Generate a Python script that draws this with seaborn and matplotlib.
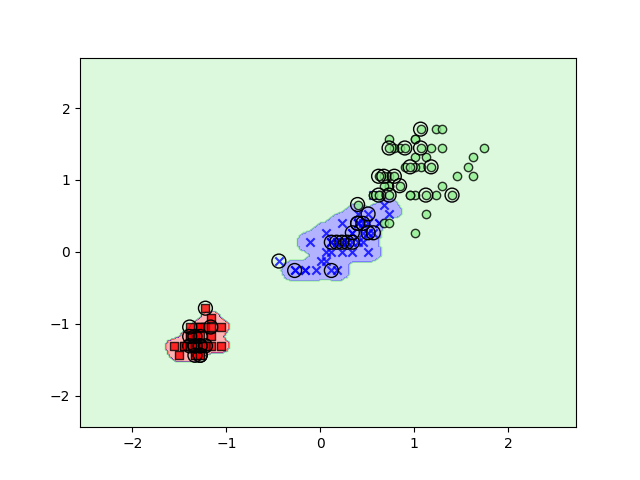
import numpy as np
import pandas as pd
import matplotlib
matplotlib.use("Agg")
import matplotlib.pyplot as plt
from matplotlib.colors import ListedColormap
import seaborn as sns

# Iris petal length / width (cm) per class
setosa_len = [1.4,1.4,1.3,1.5,1.4,1.7,1.4,1.5,1.4,1.5, 1.5,1.6,1.4,1.1,1.2,1.5,1.3,1.4,1.7,1.5,
              1.7,1.5,1.0,1.7,1.9,1.6,1.6,1.5,1.4,1.6, 1.6,1.5,1.5,1.4,1.5,1.2,1.3,1.4,1.3,1.5,
              1.3,1.3,1.3,1.6,1.9,1.4,1.6,1.4,1.5,1.4]
setosa_wid = [0.2,0.2,0.2,0.2,0.2,0.4,0.3,0.2,0.2,0.1, 0.2,0.2,0.1,0.1,0.2,0.4,0.4,0.3,0.3,0.3,
              0.2,0.4,0.2,0.5,0.2,0.2,0.4,0.2,0.2,0.2, 0.2,0.4,0.1,0.2,0.2,0.2,0.2,0.1,0.2,0.2,
              0.3,0.3,0.2,0.6,0.4,0.3,0.2,0.2,0.2,0.2]
versi_len = [4.7,4.5,4.9,4.0,4.6,4.5,4.7,3.3,4.6,3.9, 3.5,4.2,4.0,4.7,3.6,4.4,4.5,4.1,4.5,3.9,
             4.8,4.0,4.9,4.7,4.3,4.4,4.8,5.0,4.5,3.5, 3.8,3.7,3.9,5.1,4.5,4.5,4.7,4.4,4.1,4.0,
             4.4,4.6,4.0,3.3,4.2,4.2,4.2,4.3,3.0,4.1]
versi_wid = [1.4,1.5,1.5,1.3,1.5,1.3,1.6,1.0,1.3,1.4, 1.0,1.5,1.0,1.4,1.3,1.4,1.5,1.0,1.5,1.1,
             1.8,1.3,1.5,1.2,1.3,1.4,1.4,1.7,1.5,1.0, 1.1,1.0,1.2,1.6,1.5,1.6,1.5,1.3,1.3,1.3,
             1.2,1.4,1.2,1.0,1.3,1.2,1.3,1.3,1.1,1.3]
virg_len = [6.0,5.1,5.9,5.6,5.8,6.6,4.5,6.3,5.8,6.1, 5.1,5.3,5.5,5.0,5.1,5.3,5.5,6.7,6.9,5.0,
            5.7,4.9,6.7,4.9,5.7,6.0,4.8,4.9,5.6,5.8, 6.1,6.4,5.6,5.1,5.6,6.1,5.6,5.5,4.8,5.4,
            5.6,5.1,5.1,5.9,5.7,5.2,5.0,5.2,5.4,5.1]
virg_wid = [2.5,1.9,2.1,1.8,2.2,2.1,1.7,1.8,1.8,2.5, 2.0,1.9,2.1,2.0,2.4,2.3,1.8,2.2,2.3,1.5,
            2.3,2.0,2.0,1.8,2.1,1.8,1.8,1.8,2.1,1.6, 1.9,2.0,2.2,1.5,1.4,2.3,2.4,1.8,1.8,2.1,
            2.4,2.3,1.9,2.3,2.5,2.3,1.9,2.0,2.3,1.8]

# samples (1-based, within each class) that are circled as test samples
setosa_test = [1,3,4,6,7,8,10,13,17,20,26,29,33,41,44]
versi_test = [1,2,4,5,7,8,13,16,17,25,27,38,39,45,49]
virg_test = [3,7,8,9,12,13,14,21,22,24,42,45,48,49,50]

class_colors = ['red', 'blue', 'lightgreen']
class_markers = ['s', 'x', 'o']

lens = [setosa_len, versi_len, virg_len]
wids = [setosa_wid, versi_wid, virg_wid]
tests = [setosa_test, versi_test, virg_test]

X_list, y_list, t_list = [], [], []
for c in range(3):
    for i, (l, w) in enumerate(zip(lens[c], wids[c])):
        X_list.append([l, w])
        y_list.append(c)
        t_list.append((i + 1) in tests[c])
X = np.array(X_list)
y = np.array(y_list)
is_test = np.array(t_list)

X_train, y_train = X[~is_test], y[~is_test]
X_test, y_test = X[is_test], y[is_test]
mu = X_train.mean(axis=0)
sd = X_train.std(axis=0)
X_train_std = (X_train - mu) / sd
X_test_std = (X_test - mu) / sd
X_comb = np.vstack((X_train_std, X_test_std))
y_comb = np.hstack((y_train, y_test))

resolution = 0.02
x1_min, x1_max = X_comb[:, 0].min() - 1, X_comb[:, 0].max() + 1
x2_min, x2_max = X_comb[:, 1].min() - 1, X_comb[:, 1].max() + 1
xx1, xx2 = np.meshgrid(np.arange(x1_min, x1_max, resolution),
                       np.arange(x2_min, x2_max, resolution))
grid = np.array([xx1.ravel(), xx2.ravel()]).T

gamma = 100.0
try:
    from sklearn.svm import SVC
    svm = SVC(kernel='rbf', random_state=1, gamma=gamma, C=1.0)
    svm.fit(X_train_std, y_train)
    Z = svm.predict(grid)
except Exception:
    scores = []
    for c in range(3):
        P = X_train_std[y_train == c]
        d2 = ((grid[:, None, :] - P[None, :, :]) ** 2).sum(-1)
        scores.append(np.exp(-gamma * d2).sum(1))
    scores[2] = scores[2] + 0.4
    Z = np.argmax(np.vstack(scores), axis=0)
Z = Z.reshape(xx1.shape)

fig, ax = plt.subplots(figsize=(6.4, 4.8), dpi=100)
cmap = ListedColormap(class_colors)
ax.contourf(xx1, xx2, Z, alpha=0.3, cmap=cmap)
ax.set_xlim(xx1.min(), xx1.max())
ax.set_ylim(xx2.min(), xx2.max())

df = pd.DataFrame({'x': X_comb[:, 0], 'y': X_comb[:, 1], 'cls': y_comb})
for c in range(3):
    sub = df[df.cls == c]
    if class_markers[c] == 'x':
        sns.scatterplot(data=sub, x='x', y='y', color=class_colors[c], marker='x',
                        alpha=0.8, s=36, linewidth=1.5, ax=ax, legend=False)
    else:
        sns.scatterplot(data=sub, x='x', y='y', color=class_colors[c], marker=class_markers[c],
                        alpha=0.8, s=36, edgecolor='black', linewidth=1.0, ax=ax, legend=False)

ax.scatter(X_test_std[:, 0], X_test_std[:, 1], facecolors='none', edgecolors='black',
           alpha=1.0, linewidths=1, marker='o', s=100)
ax.set_xlabel('')
ax.set_ylabel('')
fig.savefig('out.png', dpi=100)
